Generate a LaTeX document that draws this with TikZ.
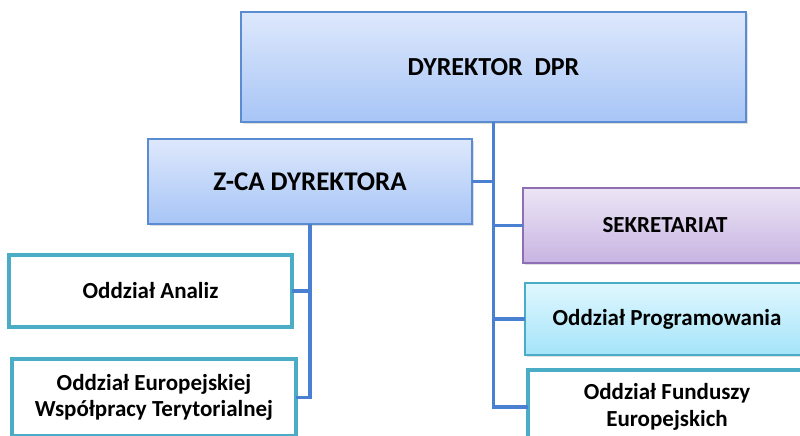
\documentclass[tikz,border=0pt]{standalone}
\usepackage{fontspec}
\setmainfont{Carlito}
\usetikzlibrary{shadows}
\definecolor{bluebd}{HTML}{5B8BD0}
\definecolor{bluetop}{HTML}{DEE8FC}
\definecolor{bluebot}{HTML}{A7C5F6}
\definecolor{purbd}{HTML}{8E6FB3}
\definecolor{purtop}{HTML}{ECE5F5}
\definecolor{purbot}{HTML}{C8B4E2}
\definecolor{cyanbd}{HTML}{4BACC6}
\definecolor{cyantop}{HTML}{E0F7FE}
\definecolor{cyanbot}{HTML}{A4E4FA}
\definecolor{linec}{HTML}{4A80D2}
\tikzset{
  box/.style={rectangle, inner sep=0pt, outer sep=0pt, align=center, font=\bfseries,
    drop shadow={opacity=0.25, shadow xshift=2pt, shadow yshift=-2pt}},
  bluebox/.style={box, draw=bluebd, line width=1.6pt, top color=bluetop, bottom color=bluebot},
  purbox/.style={box, draw=purbd, line width=1.6pt, top color=purtop, bottom color=purbot},
  cyanbox/.style={box, draw=cyanbd, line width=1.6pt, top color=cyantop, bottom color=cyanbot},
  whitebox/.style={box, draw=cyanbd, line width=3.5pt, fill=white},
  conn/.style={draw=linec, line width=3.5pt}
}
\begin{document}
\begin{tikzpicture}[x=1pt, y=-1pt]
\clip (0,0) rectangle (800,436);
\fill[white] (0,0) rectangle (800,436);
\node[bluebox, minimum width=505pt, minimum height=110pt, font=\bfseries\fontsize{26}{30}\selectfont] (dyr) at (493.5,67) {DYREKTOR\ \ DPR};
\node[bluebox, minimum width=324pt, minimum height=85pt, font=\bfseries\fontsize{27}{31}\selectfont] (zca) at (310,181.5) {Z-CA DYREKTORA};
\node[purbox, minimum width=284pt, minimum height=75pt, font=\bfseries\fontsize{23}{27}\selectfont] (sek) at (665,225.5) {SEKRETARIAT};
\node[cyanbox, minimum width=284pt, minimum height=72pt, font=\bfseries\fontsize{23}{27}\selectfont] (prog) at (667,319) {Oddział Programowania};
\node[whitebox, minimum width=278pt, minimum height=74pt, font=\bfseries\fontsize{23}{27}\selectfont] (fund) at (667,407) {Oddział Funduszy\\Europejskich};
\node[whitebox, minimum width=283pt, minimum height=72pt, font=\bfseries\fontsize{23}{27}\selectfont] (anal) at (150.5,291) {Oddział Analiz};
\node[whitebox, minimum width=284pt, minimum height=77pt, font=\bfseries\fontsize{23}{26}\selectfont] (euro) at (154,397.5) {Oddział Europejskiej\\Współpracy Terytorialnej};
\draw[conn] (dyr.south) -- (dyr.south |- fund.west) -- (fund.west);
\draw[conn] (zca.east) -- (zca.east -| dyr.south);
\draw[conn] (sek.west -| dyr.south) -- (sek.west);
\draw[conn] (prog.west -| dyr.south) -- (prog.west);
\draw[conn] (zca.south) -- (zca.south |- euro.east) -- (euro.east);
\draw[conn] (anal.east -| zca.south) -- (anal.east);
\end{tikzpicture}
\end{document}
